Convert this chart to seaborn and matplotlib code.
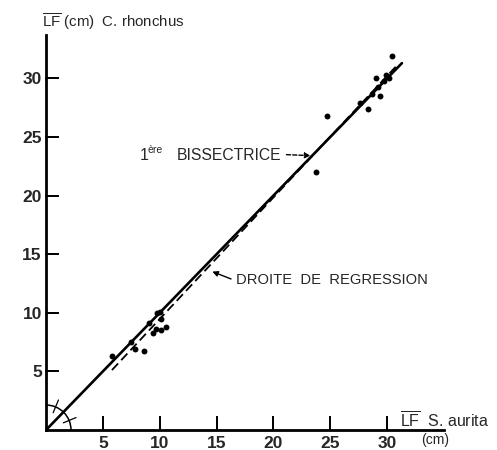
import numpy as np
import matplotlib
matplotlib.use("Agg")
import matplotlib.pyplot as plt
import seaborn as sns
import pandas as pd
from matplotlib.patches import Arc
from matplotlib.lines import Line2D

# ---- data ----
aurita_lf = [5.8, 7.5, 7.8, 8.65, 9.05, 9.45, 9.7, 9.8, 10.0, 10.1, 10.1, 10.55,
             23.7, 24.7, 27.6, 28.3, 28.7, 29.0, 29.2, 29.4, 29.7, 29.9, 30.2, 30.4]
rhonchus_lf = [6.3, 7.5, 6.9, 6.75, 9.1, 8.25, 8.6, 10.0, 10.1, 8.5, 9.5, 8.8,
               22.0, 26.8, 27.9, 27.4, 28.7, 30.0, 29.3, 28.5, 29.8, 30.3, 30.0, 31.9]
bisector_x = [0.0, 31.3]
regression_x = [5.8, 30.8]
reg_slope, reg_intercept = 1.037, -0.9
x_ticks = [5, 10, 15, 20, 25, 30]
y_ticks = [5, 10, 15, 20, 25, 30]

df = pd.DataFrame({"aurita": aurita_lf, "rhonchus": rhonchus_lf})

sns.set_style("ticks")
plt.rcParams["font.family"] = ["Liberation Sans", "DejaVu Sans"]
plt.rcParams["mathtext.fontset"] = "custom"
plt.rcParams["mathtext.rm"] = "Liberation Sans"

W, H = 497, 450
fig = plt.figure(figsize=(W / 100, H / 100), dpi=100)
ax = fig.add_axes([46 / W, 20 / H, (444 - 46) / W, (430 - 35) / H])
ax.set_xlim(0, 35)
ax.set_ylim(0, 33.7)
ax.set_xticks(x_ticks)
ax.set_yticks(y_ticks)
ax.tick_params(axis="x", bottom=True, direction="in", length=10, width=1.3,
               pad=4, labelsize=12.5, color="black")
ax.tick_params(axis="y", left=True, direction="in", length=9, width=1.3,
               pad=3, labelsize=12.5, color="black")
sns.despine(ax=ax)
for s in ("left", "bottom"):
    ax.spines[s].set_linewidth(2.0)
    ax.spines[s].set_color("black")

# lines
bx = np.array(bisector_x)
sns.lineplot(x=bx, y=bx, ax=ax, color="black", lw=1.9, zorder=3)
rx = np.array(regression_x)
ax.plot(rx, reg_slope * rx + reg_intercept, color="black", lw=1.3,
        ls=(0, (5, 2.5)), zorder=3)

# points
ax.scatter(df["aurita"], df["rhonchus"], color="black", s=18, linewidths=0,
           zorder=4)

# angle arc at origin
sx = 25 / 11.37
sy = 25 / 11.73
ax.add_patch(Arc((0, 0), 2 * sx, 2 * sy, theta1=0, theta2=90,
                 color="black", lw=1.1))
for ang in (22.5, 67.5):
    a = np.deg2rad(ang)
    r0, r1 = 0.75, 1.3
    ax.plot([r0 * sx * np.cos(a), r1 * sx * np.cos(a)],
            [r0 * sy * np.sin(a), r1 * sy * np.sin(a)], color="black", lw=0.9)

ax.set_xlim(0, 35)
ax.set_ylim(0, 33.7)
ax.set_xticks(x_ticks)
ax.set_yticks(y_ticks)
ax.set_xticklabels([str(v) for v in x_ticks], fontweight="bold")
ax.set_yticklabels([str(v) for v in y_ticks], fontweight="bold")
ax.set_xlabel("")
ax.set_ylabel("")

# annotations
ax.annotate("", xy=(23.5, 23.4), xytext=(20.9, 23.5),
            arrowprops=dict(arrowstyle="-|>", color="black", lw=1.0,
                            mutation_scale=8, linestyle=(0, (3, 1.5))))
fig.text(140 / W, 1 - 156 / H, "1", fontsize=11.5, va="center", ha="left")
fig.text(148 / W, 1 - 150 / H, "ère", fontsize=7.5, va="center", ha="left")
fig.text(177 / W, 1 - 155 / H, "BISSECTRICE", fontsize=11.3, va="center",
         ha="left")

ax.annotate("", xy=(14.4, 13.6), xytext=(16.5, 12.8),
            arrowprops=dict(arrowstyle="-|>", color="black", lw=1.0,
                            mutation_scale=8))
fig.text(236 / W, 1 - 280 / H, "DROITE  DE  REGRESSION", fontsize=10.6,
         va="center", ha="left")

fig.text(42 / W, 1 - 22 / H, r"$\overline{\mathrm{LF}}$" + " (cm)  C. rhonchus",
         fontsize=10.8, va="center", ha="left")
fig.text(400 / W, 1 - 421 / H, r"$\overline{\mathrm{LF}}$" + "  S. aurita",
         fontsize=11.5, va="center", ha="left")
fig.text(421 / W, 1 - 440 / H, "(cm)", fontsize=10, va="center", ha="left")

# tick marks also placed at figure level from the axis scale
to_fig = ax.transData + fig.transFigure.inverted()
for v in x_ticks:
    fx, fy = to_fig.transform((v, 0))
    fig.add_artist(Line2D([fx, fx], [fy, fy + 13 / H], color="black", lw=1.3))
for v in y_ticks:
    fx, fy = to_fig.transform((0, v))
    fig.add_artist(Line2D([fx, fx + 12 / W], [fy, fy], color="black", lw=1.3))

fig.savefig("out.png", dpi=100)
